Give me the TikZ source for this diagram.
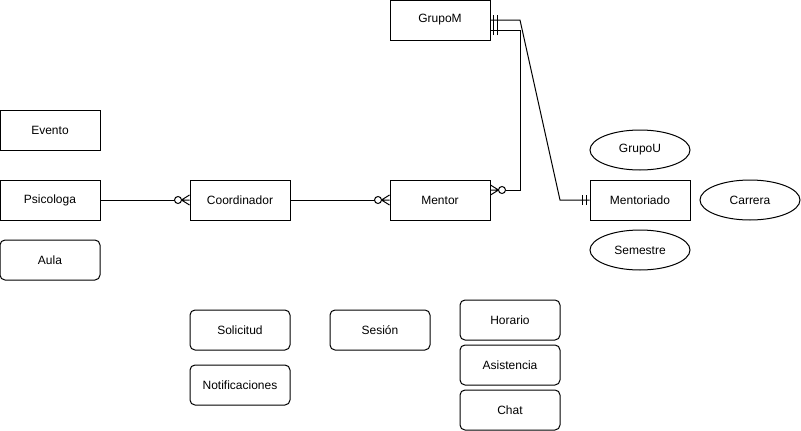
\documentclass[tikz,border=0pt]{standalone}
\usepackage{fontspec}
\setmainfont{Liberation Sans}
\usetikzlibrary{shapes.geometric}
\definecolor{ink}{HTML}{000000}
\newcommand{\lbl}{\fontsize{12}{14}\selectfont}

% crow's foot with a ring (zero or many)
\pgfdeclarearrow{
  name = ZeroMany,
  setup code = {\pgfarrowssettipend{0pt}\pgfarrowssetlineend{-15pt}\pgfarrowssetbackend{-15pt}},
  drawing code = {
    \pgfsetdash{}{0pt}
    \pgfpathmoveto{\pgfpoint{0pt}{5pt}}\pgfpathlineto{\pgfpoint{-8pt}{0pt}}\pgfpathlineto{\pgfpoint{0pt}{-5pt}}
    \pgfpathmoveto{\pgfpoint{-8pt}{0pt}}\pgfpathlineto{\pgfpoint{0pt}{0pt}}
    \pgfusepathqstroke
    \pgfpathcircle{\pgfpoint{-11.5pt}{0pt}}{3.5pt}
    \pgfsetfillcolor{white}\pgfusepathqfillstroke
  }
}
% two bars (one and only one)
\pgfdeclarearrow{
  name = OneOne,
  setup code = {\pgfarrowssettipend{0pt}\pgfarrowssetlineend{0pt}\pgfarrowssetbackend{-8pt}},
  drawing code = {
    \pgfsetdash{}{0pt}
    \pgfpathmoveto{\pgfpoint{-3pt}{5pt}}\pgfpathlineto{\pgfpoint{-3pt}{-5pt}}
    \pgfpathmoveto{\pgfpoint{-7pt}{5pt}}\pgfpathlineto{\pgfpoint{-7pt}{-5pt}}
    \pgfusepathqstroke
  }
}

\begin{document}
\begin{tikzpicture}[x=1pt,y=-1pt,font=\lbl,line width=1pt,
  ent/.style={draw=ink,minimum width=100pt,minimum height=40pt,inner sep=0},
  entr/.style={ent,rounded corners=5pt},
  attr/.style={ent,ellipse},
  rel/.style={draw=ink,line width=1pt}]
\useasboundingbox (0,0) rectangle (801,431);
% entities
\node[ent] (grupom) at (440,20) {GrupoM};
\node[ent] (evento) at (50,130) {Evento};
\node[ent] (psicologa) at (50,200) {Psicologa};
\node[entr] (aula) at (50,260) {Aula};
\node[ent] (coordinador) at (240,200) {Coordinador};
\node[ent] (mentor) at (440,200) {Mentor};
\node[ent] (mentoriado) at (640,200) {Mentoriado};
\node[attr] (grupou) at (640,150) {GrupoU};
\node[attr] (semestre) at (640,250) {Semestre};
\node[attr] (carrera) at (750,200) {Carrera};
\node[entr] (solicitud) at (240,330) {Solicitud};
\node[entr] (notificaciones) at (240,385) {Notificaciones};
\node[entr] (sesion) at (380,330) {Sesión};
\node[entr] (horario) at (510,320) {Horario};
\node[entr] (asistencia) at (510,365) {Asistencia};
\node[entr] (chat) at (510,410) {Chat};
% bends
\coordinate (k1) at (520,20);
\coordinate (k2) at (560,200);
\coordinate (k3) at (520,30);
\coordinate (k4) at (520,190);
% relations
\draw[rel,-ZeroMany] (psicologa) -- (coordinador);
\draw[rel,-ZeroMany] (coordinador) -- (mentor);
\draw[rel,OneOne-OneOne] (grupom.east) -- (k1) -- (k2) -- (mentoriado.west);
\draw[rel,OneOne-ZeroMany] ([yshift=-10pt]grupom.east) -- (k3) -- (k4) -- ([yshift=10pt]mentor.east);
\end{tikzpicture}
\end{document}
